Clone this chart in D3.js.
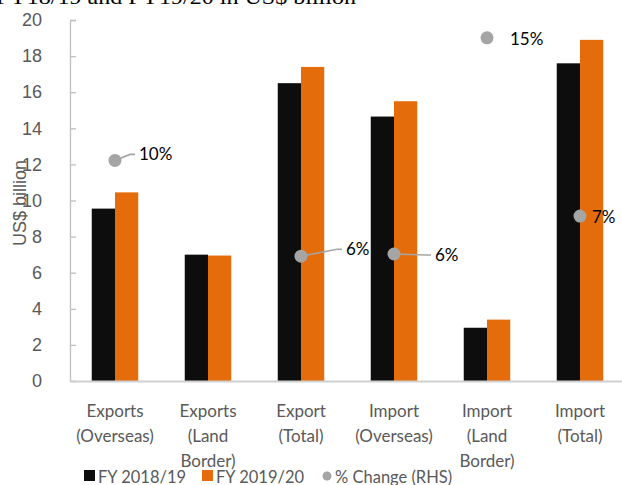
<!DOCTYPE html>
<html>
<head>
<meta charset="utf-8">
<script src="https://cdn.jsdelivr.net/npm/d3@7"></script>
<style>
  body { margin: 0; background: #fff; }
  svg { display: block; }
</style>
</head>
<body>
<div id="chart"></div>
<script>
// data
var categories = ["Exports (Overseas)", "Exports (Land Border)", "Export (Total)",
                  "Import (Overseas)", "Import (Land Border)", "Import (Total)"];
var categoryLines = [["Exports", "(Overseas)"], ["Exports", "(Land", "Border)"], ["Export", "(Total)"],
                     ["Import", "(Overseas)"], ["Import", "(Land", "Border)"], ["Import", "(Total)"]];
var fy1819 = [9.55, 7.0, 16.5, 14.65, 2.95, 17.6];
var fy1920 = [10.45, 6.95, 17.4, 15.5, 3.4, 18.9];
var pctChange = [9.9, null, 5.6, 5.7, 15.4, 7.4];   // RHS, %
var pctLabels = ["10%", "", "6%", "6%", "15%", "7%"];
var yTicks = [0, 2, 4, 6, 8, 10, 12, 14, 16, 18, 20];
var seriesNames = ["FY 2018/19", "FY 2019/20", "% Change (RHS)"];

// label placement (dx, dy from dot, leader line or not)
var labelPlace = [[24, -6, true], null, [45, -7, true], [41, 1, true], [23, 1, false], [12, 1, false]];

var W = 622, H = 485;
var colBlack = "#0d0d0d", colOrange = "#e46c0a", colGray = "#a5a5a5", txt = "#595959";

var svg = d3.select("#chart").append("svg").attr("width", W).attr("height", H);

var margin = {left: 70, top: 20, bottom: 381};

var x = d3.scaleBand().domain(categories).range([68.5, 626.5]).paddingInner(0.5).paddingOuter(0.25);
var xs = d3.scaleBand().domain([0, 1]).range([0, x.bandwidth()]);
var y = d3.scaleLinear().domain([0, 20]).range([margin.bottom, margin.top]);
var y2 = d3.scaleLinear().domain([0, 16.2]).range([margin.bottom, margin.top]);

// clipped title at the very top
svg.append("text")
  .attr("x", -4).attr("y", 4)
  .attr("font-family", "Liberation Serif, Times New Roman, serif")
  .attr("font-size", "21px")
  .attr("fill", "#000")
  .attr("textLength", 360).attr("lengthAdjust", "spacingAndGlyphs")
  .text("FY18/19 and FY19/20 in US$ billion");

// y axis
var yAxis = svg.append("g")
  .attr("transform", "translate(" + margin.left + ",0)")
  .call(d3.axisLeft(y).tickValues(yTicks).tickSize(-6).tickPadding(28));
yAxis.select(".domain").attr("stroke", "#bfbfbf").attr("stroke-width", 1.3);
yAxis.selectAll(".tick line").attr("stroke", "#bfbfbf").attr("stroke-width", 1.3);
yAxis.selectAll(".tick text")
  .attr("font-family", "Liberation Sans, Arial, sans-serif")
  .attr("font-size", "18px").attr("fill", txt);

svg.append("text")
  .attr("transform", "translate(26,203) rotate(-90)")
  .attr("text-anchor", "middle")
  .attr("font-family", "Liberation Sans, Arial, sans-serif")
  .attr("font-size", "18px").attr("fill", txt)
  .text("US$ billion");

// bars
var groups = svg.selectAll("g.grp").data(categories).enter().append("g")
  .attr("class", "grp")
  .attr("transform", function(d) { return "translate(" + x(d) + ",0)"; });

groups.append("rect")
  .attr("x", xs(0)).attr("width", xs.bandwidth())
  .attr("y", function(d, i) { return y(fy1819[i]); })
  .attr("height", function(d, i) { return y(0) - y(fy1819[i]); })
  .attr("fill", colBlack);

groups.append("rect")
  .attr("x", xs(1)).attr("width", xs.bandwidth())
  .attr("y", function(d, i) { return y(fy1920[i]); })
  .attr("height", function(d, i) { return y(0) - y(fy1920[i]); })
  .attr("fill", colOrange);

// x axis line
svg.append("line")
  .attr("x1", margin.left).attr("x2", W)
  .attr("y1", y(0) + 0.5).attr("y2", y(0) + 0.5)
  .attr("stroke", "#d0d0d0").attr("stroke-width", 2);

// category labels
svg.selectAll("text.cat").data(categories).enter().append("text")
  .attr("class", "cat")
  .attr("x", function(d) { return x(d) + x.bandwidth() / 2; })
  .attr("y", 417)
  .attr("text-anchor", "middle")
  .attr("font-family", "Lato, sans-serif")
  .attr("font-size", "17px").attr("fill", txt)
  .each(function(d, i) {
    var t = d3.select(this);
    categoryLines[i].forEach(function(line, k) {
      t.append("tspan").attr("x", x(d) + x.bandwidth() / 2).attr("dy", k == 0 ? 0 : 25).text(line);
    });
  });

// % change dots + labels
var pts = categories.map(function(c, i) {
  return {c: c, v: pctChange[i], lab: pctLabels[i], p: labelPlace[i]};
}).filter(function(d) { return d.v != null; });

pts.forEach(function(d) {
  var cx = x(d.c) + x.bandwidth() / 2, cy = y2(d.v);
  var lx = cx + d.p[0], ly = cy + d.p[1];
  if (d.p[2]) {
    svg.append("path")
      .attr("d", "M" + cx + "," + cy + "L" + (lx - 9) + "," + ly + "L" + (lx - 4) + "," + ly)
      .attr("fill", "none").attr("stroke", colGray).attr("stroke-width", 1.6);
  }
  svg.append("circle").attr("cx", cx).attr("cy", cy).attr("r", 6.5).attr("fill", colGray);
  svg.append("text")
    .attr("x", lx).attr("y", ly).attr("dy", "0.35em")
    .attr("font-family", "Lato, sans-serif")
    .attr("font-size", "17px").attr("fill", "#000")
    .text(d.lab);
});

// legend
var legend = svg.append("g").attr("transform", "translate(0,476)");
var lx0 = [84, 202, 327];
seriesNames.forEach(function(name, i) {
  if (i < 2) {
    legend.append("rect").attr("x", lx0[i]).attr("y", -6).attr("width", 11).attr("height", 11)
      .attr("fill", i == 0 ? colBlack : colOrange);
  } else {
    legend.append("circle").attr("cx", lx0[i]).attr("cy", 0).attr("r", 4.5).attr("fill", colGray);
  }
  legend.append("text")
    .attr("x", lx0[i] + (i < 2 ? 14 : 8)).attr("y", 0).attr("dy", "0.4em")
    .attr("font-family", "Lato, sans-serif")
    .attr("font-size", "16.5px").attr("fill", txt)
    .text(name);
});
</script>
</body>
</html>
